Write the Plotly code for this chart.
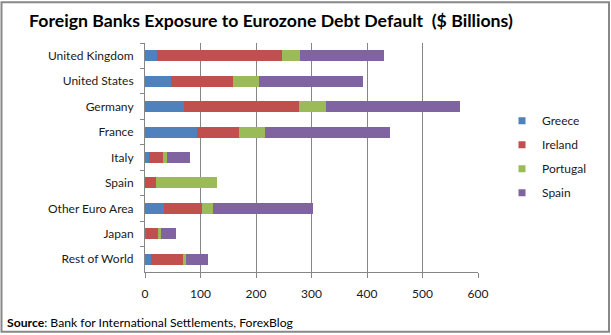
import plotly.graph_objects as go

categories = ["United Kingdom", "United States", "Germany", "France", "Italy",
              "Spain", "Other Euro Area", "Japan", "Rest of World"]
greece   = [22, 46, 70, 93, 7, 0, 34, 1, 10]
ireland  = [224, 112, 208, 77, 26, 19, 69, 24, 58]
portugal = [34, 47, 48, 47, 7, 110, 20, 3, 5]
spain    = [151, 188, 242, 224, 41, 0, 180, 28, 41]
series_names = ["Greece", "Ireland", "Portugal", "Spain"]
series_vals = [greece, ireland, portugal, spain]
colors = ["#4F81BD", "#C0504D", "#9BBB59", "#8064A2"]
x_ticks = [0, 100, 200, 300, 400, 500, 600]

W, H = 611, 335
L, R, T, B = 145, 478, 42.5, 272.5

def px2x(p):
    return (p - L) / (R - L)

def px2y(p):
    return (B - p) / (B - T)

FONT = "Lato, 'Open Sans', sans-serif"

fig = go.Figure()
for name, vals, c in zip(series_names, series_vals, colors):
    fig.add_trace(go.Bar(y=categories, x=vals, name=name, orientation="h",
                         marker=dict(color=c, line=dict(width=0)),
                         showlegend=False))
for name, c in zip(series_names, colors):
    fig.add_trace(go.Scatter(x=[None], y=[None], mode="markers", name=name,
                             legendgroup=name,
                             marker=dict(symbol="square", size=7, color=c)))

fig.update_layout(
    width=W, height=H,
    margin=dict(l=L, r=W - R, t=T, b=H - B),
    barmode="stack", bargap=0.57,
    plot_bgcolor="white", paper_bgcolor="white",
    font=dict(family=FONT, size=12, color="#1a1a1a"),
    title=dict(text="<b>Foreign Banks Exposure to Eurozone Debt Default  ($ Billions)</b>",
               x=29 / W, xanchor="left", xref="container",
               y=1 - 21 / H, yanchor="middle", yref="container",
               font=dict(family=FONT, size=17.7, color="#000000")),
    xaxis=dict(range=[0, 600], tickvals=x_ticks, ticks="outside", ticklen=5,
               tickcolor="#868686", showline=True, linecolor="#868686",
               showgrid=True, gridcolor="#868686", gridwidth=1,
               zeroline=False, ticklabelstandoff=6,
               tickfont=dict(size=12, color="#1a1a1a")),
    yaxis=dict(categoryorder="array", categoryarray=categories,
               autorange="reversed", ticks="outside", ticklen=4,
               tickson="boundaries", tickcolor="#868686",
               showline=True, linecolor="#868686", showgrid=False,
               ticklabelstandoff=8, tickfont=dict(size=12, color="#1a1a1a")),
    legend=dict(x=px2x(502), y=px2y(106), xanchor="left", yanchor="top",
                xref="paper", yref="paper", tracegroupgap=5,
                itemwidth=30, font=dict(size=12, color="#1a1a1a"),
                bgcolor="rgba(0,0,0,0)"),
    showlegend=True,
)

fig.add_annotation(text="<b>Source</b>: Bank for International Settlements, ForexBlog",
                   xref="paper", yref="paper", x=px2x(5), y=px2y(323),
                   xanchor="left", yanchor="middle", showarrow=False,
                   font=dict(family=FONT, size=12.2, color="#000000"))

fig.add_shape(type="rect", xref="paper", yref="paper",
              x0=px2x(1.5), x1=px2x(609), y0=px2y(332.5), y1=px2y(1.5),
              line=dict(color="#888888", width=2), fillcolor="rgba(0,0,0,0)",
              layer="above")

fig.write_html("out.html")
